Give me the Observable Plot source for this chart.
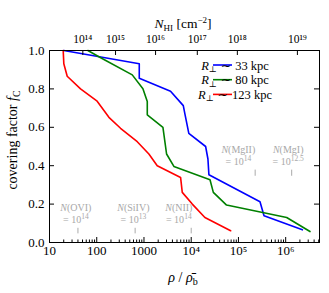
<!DOCTYPE html>
<html><head><meta charset="utf-8">
<script src="https://cdn.jsdelivr.net/npm/d3@7"></script>
<script src="https://cdn.jsdelivr.net/npm/@observablehq/plot@0.6"></script>
<style>body{margin:0;background:#fff} svg{display:block}</style>
</head><body><div id="chart"></div>
<script>
// ---- data ----
const seriesNames = ["33", "80", "123"];
const seriesColors = ["#0000ff", "#008000", "#ff0000"];

const rho33 = [20, 795, 795, 3650, 6800, 7350, 8900, 20200, 22600, 23700, 286000, 348000, 2260000];
const fc33  = [1.0, 0.931, 0.856, 0.788, 0.713, 0.670, 0.568, 0.50, 0.435, 0.353, 0.212, 0.139, 0.066];

const rho80 = [65, 116, 565, 950, 1175, 1175, 2520, 3010, 4300, 25000, 29400, 56000, 1050000, 3270000];
const fc80  = [1.0, 0.965, 0.873, 0.801, 0.734, 0.665, 0.60, 0.461, 0.396, 0.327, 0.261, 0.195, 0.130, 0.057];

const rho123 = [19.5, 20.1, 23.7, 45.4, 102, 181, 319, 721, 1270, 1910, 5960, 6470, 10540, 19500, 68400];
const fc123  = [1.0, 0.931, 0.866, 0.80, 0.736, 0.652, 0.595, 0.525, 0.461, 0.40, 0.339, 0.261, 0.20, 0.13, 0.061];

const xTickValues = [10, 100, 1000, 1e4, 1e5, 1e6];
const xTickLabels = ["10", "100", "1000", "10⁴", "10⁵", "10⁶"];
const yTickValues = [0, 0.2, 0.4, 0.6, 0.8, 1.0];
const nhiTickRho = [50.8, 250, 1760, 13460, 94800, 1770000];
const nhiTickLabels = ["10¹⁴", "10¹⁵", "10¹⁶", "10¹⁷", "10¹⁸", "10¹⁹"];

const ionNames = ["OVI", "SiIV", "NII", "MgII", "MgI"];
const ionExps = ["14", "13", "14", "14", "12.5"];
const ionTickRho = [40, 650, 10000, 226000, 1340000];
const ionTextRho = [37, 611, 5600, 102000, 1160000];
const ionTextFc = [0.178, 0.178, 0.178, 0.478, 0.478];
const ionTickFcTop = [0.074, 0.074, 0.074, 0.377, 0.377];
const ionTickFcBottom = [0.045, 0.045, 0.045, 0.345, 0.345];

// ---- build tables ----
const rows = [];
[[rho33, fc33], [rho80, fc80], [rho123, fc123]].forEach(([r, f], i) =>
  r.forEach((v, j) => rows.push({series: seriesNames[i], rho: v, fc: f[j]})));

const xMinor = [];
for (let k = 1; k <= 6; k++) for (let m = 2; m <= 9; m++) {
  const v = m * 10 ** k; if (v < 5.2e6) xMinor.push(v);
}
const xTicks = xTickValues.map((v, i) => ({v, label: xTickLabels[i]}));
const nhiTicks = nhiTickRho.map((v, i) => ({v, label: nhiTickLabels[i]}));
const ionTicks = ionNames.map((n, i) => ({rho: ionTickRho[i], y1: ionTickFcBottom[i], y2: ionTickFcTop[i]}));

const W = 329, H = 293, ML = 49, MR = 10, MT = 50, MB = 51;
const PW = W - ML - MR, PH = H - MT - MB;
const font = "'Liberation Serif', 'Times New Roman', serif";
const chart = Plot.plot({
  width: W, height: H,
  marginLeft: ML, marginRight: MR, marginTop: MT, marginBottom: MB,
  style: {fontFamily: font, fontSize: "13px", background: "#fff", color: "#000"},
  x: {type: "log", domain: [10, 5.2e6], axis: null},
  y: {domain: [0, 1], axis: null},
  color: {domain: seriesNames, range: seriesColors},
  marks: [
    Plot.ruleX(ionTicks, {x: "rho", y1: "y1", y2: "y2", stroke: "#aaaaaa", strokeWidth: 1}),
    Plot.line(rows, {x: "rho", y: "fc", z: "series", stroke: "series", strokeWidth: 1.6}),
    Plot.frame({stroke: "#000", strokeWidth: 1}),
    // inward ticks
    Plot.tickX(xTickValues, {x: d => d, insetTop: PH - 5, stroke: "#000"}),
    Plot.tickX(xMinor, {x: d => d, insetTop: PH - 2.5, stroke: "#000"}),
    Plot.tickX(nhiTicks, {x: "v", insetBottom: PH - 5, stroke: "#000"}),
    Plot.tickY(yTickValues, {y: d => d, insetRight: PW - 5, stroke: "#000"}),
    Plot.tickY(yTickValues, {y: d => d, insetLeft: PW - 5, stroke: "#000"}),
    // tick labels
    Plot.text(xTicks, {x: "v", text: "label", frameAnchor: "bottom", lineAnchor: "top", dy: 3, fontSize: 13}),
    Plot.text(nhiTicks, {x: "v", text: "label", frameAnchor: "top", lineAnchor: "bottom", dy: -8, fontSize: 11.5}),
    Plot.text(yTickValues, {y: d => d, text: d => d3.format(".1f")(d), frameAnchor: "left", textAnchor: "end", dx: -5, fontSize: 13})
  ]
});
document.getElementById("chart").appendChild(chart);

// ---- rich text labels ----
const svg = d3.select(chart);
const sx = chart.scale("x"), sy = chart.scale("y");
const g = svg.append("g").attr("font-family", font).attr("fill", "#000");

// top title N_HI [cm^-2]
const t = g.append("text").attr("x", 183).attr("y", 28).attr("text-anchor", "middle").attr("font-size", 13.5);
t.append("tspan").attr("font-style", "italic").text("N");
t.append("tspan").attr("font-size", 9).attr("dy", 3).text("HI");
t.append("tspan").attr("dy", -3).text(" [cm");
t.append("tspan").attr("font-size", 9).attr("dy", -5).text("−2");
t.append("tspan").attr("dy", 5).text("]");

// x label
const xl = g.append("text").attr("x", 183).attr("y", 282).attr("text-anchor", "middle").attr("font-size", 14);
xl.append("tspan").attr("font-style", "italic").text("ρ");
xl.append("tspan").text(" / ");
xl.append("tspan").attr("font-style", "italic").text("ρ̄");
xl.append("tspan").attr("font-size", 10).attr("dy", 3).text("b");

// y label
const yl = g.append("text").attr("transform", "translate(17,140) rotate(-90)").attr("text-anchor", "middle").attr("font-size", 14);
yl.append("tspan").text("covering factor ");
yl.append("tspan").attr("font-style", "italic").text("f");
yl.append("tspan").attr("font-size", 10).attr("dy", 3).text("C");

// legend
seriesNames.forEach((name, i) => {
  const yy = 65 + i * 14.7;
  g.append("line").attr("x1", 213).attr("x2", 232).attr("y1", yy).attr("y2", yy)
    .attr("stroke", seriesColors[i]).attr("stroke-width", 1.6);
  const lt = g.append("text").attr("x", 235).attr("y", yy + 4.5).attr("font-size", 12.5);
  lt.append("tspan").attr("font-style", "italic").text("R");
  lt.append("tspan").attr("font-size", 8.5).attr("dy", 2.5).attr("font-family", "'DejaVu Serif', serif").text("⊥");
  lt.append("tspan").attr("dy", -2.5).attr("font-family", "'DejaVu Sans', sans-serif").attr("font-size", 12.5).text(" ∼ ");
  lt.append("tspan").text(name + " kpc");
});

// ion annotations
ionNames.forEach((name, i) => {
  const x = sx.apply(ionTextRho[i]), y = sy.apply(ionTextFc[i]);
  const a = g.append("text").attr("x", x).attr("y", y + 3).attr("text-anchor", "middle")
    .attr("font-size", 10).attr("fill", "#a8a8a8");
  a.append("tspan").attr("font-style", "italic").text("N");
  a.append("tspan").text("(" + name + ")");
  const b = g.append("text").attr("x", x).attr("y", y + 15).attr("text-anchor", "middle")
    .attr("font-size", 10).attr("fill", "#a8a8a8");
  b.append("tspan").text("= 10");
  b.append("tspan").attr("font-size", 7.5).attr("dy", -4).text(ionExps[i]);
});
</script>
</body></html>
